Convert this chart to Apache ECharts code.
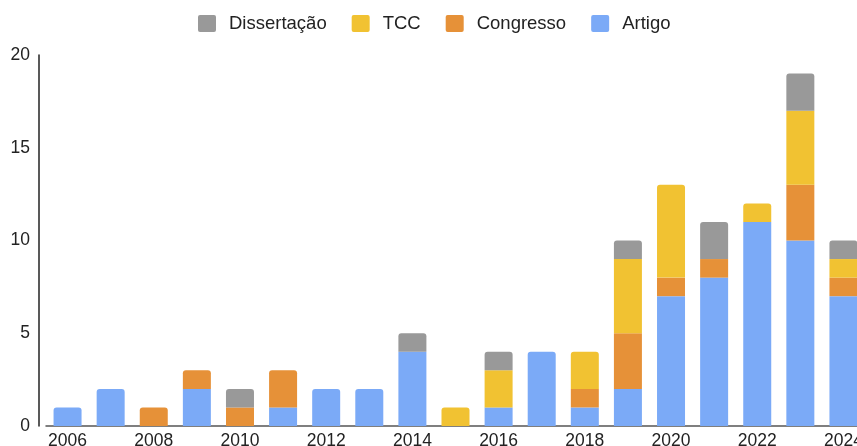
<!DOCTYPE html>
<html>
<head>
<meta charset="utf-8">
<script src="https://cdn.jsdelivr.net/npm/echarts@6/dist/echarts.min.js"></script>
<style>
  html, body { margin: 0; padding: 0; background: #fff; }
  #chart { width: 857px; height: 446px; }
</style>
</head>
<body>
<div id="chart"></div>
<script>
// anos e contagens por tipo --------------------------------------------
var anos = ['2006','2007','2008','2009','2010','2011','2012','2013','2014','2015',
  '2016','2017','2018','2019','2020','2021','2022','2023','2024'];
var artigo      = [1,2,0,2,0,1,2,2,4,0,1,4,1,2,7,8,11,10,7];
var congresso   = [0,0,1,1,1,2,0,0,0,0,0,0,1,3,1,1,0,3,1];
var tcc         = [0,0,0,0,0,0,0,0,0,1,2,0,2,4,5,0,1,4,1];
var dissertacao = [0,0,0,0,1,0,0,0,1,0,1,0,0,1,0,2,0,2,1];

var nomes = ['Artigo','Congresso','TCC','Dissertação'];
var cores = ['#7baaf7','#e69138','#f1c232','#999999'];
var pilha = [artigo, congresso, tcc, dissertacao];

// só o segmento de cima fica arredondado
function montaSerie(k) {
  return pilha[k].map(function (v, i) {
    var topo = true;
    for (var j = k + 1; j < pilha.length; j++) {
      if (pilha[j][i] > 0) topo = false;
    }
    return {
      value: v,
      itemStyle: { borderRadius: topo ? [3,3,0,0] : 0 }
    };
  });
}

var series = [];
for (var k = 0; k < nomes.length; k++) {
  series.push({
    name: nomes[k],
    type: 'bar',
    stack: 'total',
    barWidth: 28,
    itemStyle: { color: cores[k] },
    data: montaSerie(k)
  });
}

var chart = echarts.init(document.getElementById('chart'));
chart.setOption({
  animation: false,
  textStyle: { fontFamily: 'Liberation Sans, Arial, sans-serif' },
  legend: {
    data: ['Dissertação','TCC','Congresso','Artigo'],
    top: 9,
    left: 193,
    itemWidth: 18,
    itemHeight: 17,
    itemGap: 25,
    icon: 'path://M2,0 L16,0 Q18,0 18,2 L18,15 Q18,17 16,17 L2,17 Q0,17 0,15 L0,2 Q0,0 2,0 Z',
    textStyle: { fontSize: 18.5, color: '#222', padding: [0,0,0,8] }
  },
  grid: {
    left: 46, width: 819, top: 55, bottom: 20,
    containLabel: false,
    outerBoundsMode: 'none'
  },
  xAxis: {
    type: 'category',
    data: anos,
    axisLine: { lineStyle: { color: '#555', width: 1.5 } },
    axisTick: { show: false },
    axisLabel: { interval: 1, fontSize: 17.5, color: '#222', margin: 6 }
  },
  yAxis: {
    type: 'value',
    min: 0,
    max: 20,
    interval: 5,
    offset: 7,
    axisLine: { show: true, lineStyle: { color: '#222', width: 1.5 } },
    axisTick: { show: false },
    splitLine: { show: false },
    axisLabel: { fontSize: 17.5, color: '#222', margin: 9 }
  },
  series: series
});
</script>
</body>
</html>
